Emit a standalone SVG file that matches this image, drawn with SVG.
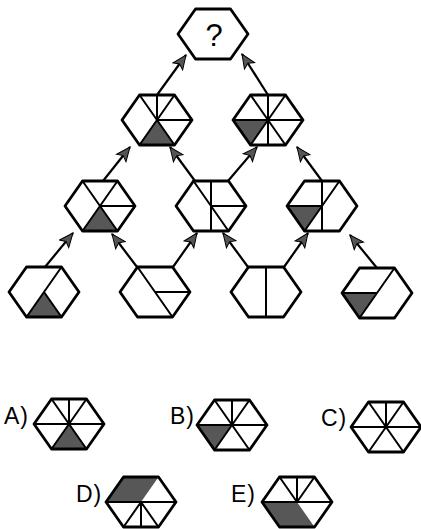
<svg xmlns="http://www.w3.org/2000/svg" xmlns:xlink="http://www.w3.org/1999/xlink" width="421" height="529" viewBox="0 0 421 529">
<style>
.o{fill:none;stroke:#000;stroke-width:2.8;stroke-linejoin:round}
.l{fill:none;stroke:#000;stroke-width:2;stroke-linecap:round}
.s{fill:#575757;stroke:none}
.c{fill:none;stroke:#000;stroke-width:2.2}
.t{font-family:"Liberation Sans",Arial,sans-serif;font-size:23px;fill:#000;letter-spacing:1px}
</style>
<defs>
<path id="hx" d="M-35,0 L-17.5,-25 L17.5,-25 L35,0 L17.5,25 L-17.5,25 Z"/>
<marker id="ah" markerUnits="userSpaceOnUse" markerWidth="16" markerHeight="14" viewBox="0 0 16 14" refX="15" refY="7" orient="auto">
<path d="M1,1 L15,7 L1,13 L4,7 Z" fill="#555" stroke="#000" stroke-width="1"/>
</marker>
</defs>
<rect width="421" height="529" fill="#fff"/>

<g id="connectors">
<path class="c" marker-end="url(#ah)" d="M45,267 L73,233"/>
<path class="c" marker-end="url(#ah)" d="M137,267 L112,234"/>
<path class="c" marker-end="url(#ah)" d="M173,267 L197,233"/>
<path class="c" marker-end="url(#ah)" d="M248,267 L223,233"/>
<path class="c" marker-end="url(#ah)" d="M284,267 L308,233"/>
<path class="c" marker-end="url(#ah)" d="M377,268 L350,235"/>
<path class="c" marker-end="url(#ah)" d="M103,181 L130,147"/>
<path class="c" marker-end="url(#ah)" d="M195,181 L170,147"/>
<path class="c" marker-end="url(#ah)" d="M228,181 L257,147"/>
<path class="c" marker-end="url(#ah)" d="M322,181 L297,147"/>
<path class="c" marker-end="url(#ah)" d="M157,95 L186,55"/>
<path class="c" marker-end="url(#ah)" d="M268,95 L242,54"/>
</g>

<g id="q" transform="translate(213,34)">
<use href="#hx" class="o"/>
<text x="1" y="12" text-anchor="middle" style="font-family:'Liberation Sans',Arial,sans-serif;font-size:31px">?</text>
</g>

<g id="r2a" transform="translate(157,120)">
<path class="s" d="M0,0 L-17.5,25 L17.5,25 Z"/>
<path class="l" d="M0,0 L-17.5,-25 M0,0 L0,-25 M0,0 L17.5,-25 M0,0 L35,0 M0,0 L-17.5,25 M0,0 L17.5,25"/>
<use href="#hx" class="o"/>
</g>
<g id="r2b" transform="translate(268,120)">
<path class="s" d="M0,0 L-35,0 L-17.5,25 Z"/>
<path class="l" d="M0,0 L-17.5,-25 M0,-25 L0,25 M0,0 L17.5,-25 M-35,0 L35,0 M0,0 L-17.5,25 M0,0 L17.5,25"/>
<use href="#hx" class="o"/>
</g>

<g id="r3a" transform="translate(100,206)">
<path class="s" d="M0,0 L-17.5,25 L17.5,25 Z"/>
<path class="l" d="M0,0 L-17.5,-25 M0,0 L17.5,-25 M0,0 L35,0 M0,0 L-17.5,25 M0,0 L17.5,25"/>
<use href="#hx" class="o"/>
</g>
<g id="r3b" transform="translate(211,206)">
<path class="l" d="M0,-25 L0,25 M0,0 L-17.5,-25 M0,0 L35,0 M0,0 L17.5,25"/>
<use href="#hx" class="o"/>
</g>
<g id="r3c" transform="translate(322,206)">
<path class="s" d="M0,0 L-35,0 L-17.5,25 Z"/>
<path class="l" d="M0,-25 L0,25 M0,0 L17.5,-25 M0,0 L-35,0 M0,0 L-17.5,25"/>
<use href="#hx" class="o"/>
</g>

<g id="r4a" transform="translate(44,292)">
<path class="s" d="M0,0 L-17.5,25 L17.5,25 Z"/>
<path class="l" d="M0,0 L17.5,-25 M0,0 L-17.5,25 M0,0 L17.5,25"/>
<use href="#hx" class="o"/>
</g>
<g id="r4b" transform="translate(155,292)">
<path class="l" d="M-17.5,-25 L17.5,25 M0,0 L35,0"/>
<use href="#hx" class="o"/>
</g>
<g id="r4c" transform="translate(266,292)">
<path class="l" d="M0,-25 L0,25"/>
<use href="#hx" class="o"/>
</g>
<g id="r4d" transform="translate(377,293)">
<path class="s" d="M0,0 L-35,0 L-17.5,25 Z"/>
<path class="l" d="M17.5,-25 L-17.5,25 M0,0 L-35,0"/>
<use href="#hx" class="o"/>
</g>

<g id="optA">
<text class="t" x="4" y="424">A)</text>
<g transform="translate(69,424)">
<path class="s" d="M0,0 L-17.5,25 L17.5,25 Z"/>
<path class="l" d="M0,0 L-17.5,-25 M0,0 L0,-25 M0,0 L17.5,-25 M-35,0 L35,0 M0,0 L-17.5,25 M0,0 L17.5,25"/>
<use href="#hx" class="o"/>
</g>
</g>
<g id="optB">
<text class="t" x="170" y="424">B)</text>
<g transform="translate(232,425)">
<path class="s" d="M0,0 L-35,0 L-17.5,25 Z"/>
<path class="l" d="M0,0 L-17.5,-25 M0,0 L0,-25 M0,0 L17.5,-25 M-35,0 L35,0 M0,0 L-17.5,25 M0,0 L17.5,25"/>
<use href="#hx" class="o"/>
</g>
</g>
<g id="optC">
<text class="t" x="321" y="426">C)</text>
<g transform="translate(386,427)">
<path class="l" d="M0,0 L-17.5,-25 M0,0 L0,-25 M0,0 L17.5,-25 M-35,0 L35,0 M0,0 L-17.5,25 M0,0 L17.5,25"/>
<use href="#hx" class="o"/>
</g>
</g>
<g id="optD">
<text class="t" x="76" y="502">D)</text>
<g transform="translate(141,502)">
<path class="s" d="M0,0 L-35,0 L-17.5,-25 L17.5,-25 Z"/>
<path class="l" d="M-35,0 L35,0 M0,0 L0,25 M0,0 L-17.5,25 M0,0 L17.5,25"/>
<use href="#hx" class="o"/>
</g>
</g>
<g id="optE">
<text class="t" x="231" y="502">E)</text>
<g transform="translate(297,502)">
<path class="s" d="M-35,0 L0,0 L17.5,25 L-17.5,25 Z"/>
<path class="l" d="M0,0 L-17.5,-25 M0,0 L0,-25 M0,0 L17.5,-25 M-35,0 L35,0"/>
<use href="#hx" class="o"/>
</g>
</g>
</svg>
